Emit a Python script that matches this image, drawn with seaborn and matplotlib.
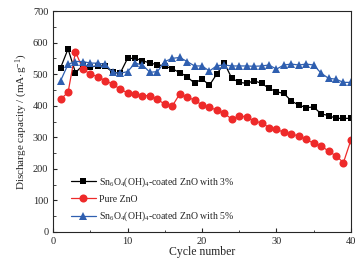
import numpy as np
import pandas as pd
import matplotlib
matplotlib.use('Agg')
import matplotlib.pyplot as plt
import seaborn as sns
from matplotlib.ticker import MultipleLocator

# Data
cycles = list(range(1, 41))
coated_3 = [520, 580, 505, 528, 522, 527, 525, 506, 503, 550,
            550, 543, 535, 530, 526, 517, 505, 492, 471, 485,
            465, 501, 535, 487, 474, 471, 479, 471, 455, 444,
            439, 415, 402, 394, 396, 374, 369, 360, 360, 360]
pure_zno = [421, 442, 571, 516, 500, 492, 479, 469, 452, 441,
            436, 432, 432, 420, 405, 399, 437, 427, 418, 402,
            395, 386, 376, 357, 367, 365, 351, 346, 331, 325,
            316, 309, 305, 293, 281, 273, 256, 241, 220, 291]
coated_5 = [479, 531, 540, 540, 535, 535, 531, 506, 503, 508,
            535, 529, 506, 508, 540, 550, 553, 540, 526, 526,
            510, 527, 529, 526, 526, 526, 525, 526, 529, 516,
            529, 532, 529, 532, 529, 503, 487, 484, 474, 474]

labels = [r'Sn$_6$O$_4$(OH)$_4$-coated ZnO with 3%',
          'Pure ZnO',
          r'Sn$_6$O$_4$(OH)$_4$-coated ZnO with 5%']
colors = ['#000000', '#ee2a2a', '#2f5fb0']
markers = ['s', 'o', '^']
sizes = [4.8, 5.8, 5.8]

sns.set_style('ticks')
plt.rcParams['font.family'] = ['Liberation Serif', 'DejaVu Serif']
plt.rcParams['mathtext.fontset'] = 'custom'
plt.rcParams['mathtext.rm'] = 'Liberation Serif'
plt.rcParams['mathtext.it'] = 'Liberation Serif:italic'

fig = plt.figure(figsize=(3.64, 2.63), dpi=100)
ax = fig.add_axes([0.146, 0.118, 0.818, 0.84])

for vals, lab, col, mk, ms in zip([coated_3, pure_zno, coated_5], labels, colors, markers, sizes):
    df = pd.DataFrame({'cycle': cycles, 'capacity': vals})
    sns.lineplot(data=df, x='cycle', y='capacity', ax=ax, color=col, marker=mk,
                 markersize=ms, markeredgewidth=0, linewidth=0.9, label=lab)

ax.set_xlim(0, 40)
ax.set_ylim(0, 700)
ax.xaxis.set_major_locator(MultipleLocator(10))
ax.xaxis.set_minor_locator(MultipleLocator(5))
ax.yaxis.set_major_locator(MultipleLocator(100))
ax.yaxis.set_minor_locator(MultipleLocator(50))
ax.tick_params(which='both', direction='in', top=False, right=False, labelsize=7.5)
ax.tick_params(which='major', length=3, width=0.8)
ax.tick_params(which='minor', length=1.8, width=0.6)
for s in ax.spines.values():
    s.set_linewidth(0.8)

ax.set_xlabel('Cycle number', fontsize=8.5, labelpad=0)
ax.set_ylabel(r'Discharge capacity / (mA$\cdot$g$^{-1}$)', fontsize=8, labelpad=2)

ax.legend(loc='lower left', bbox_to_anchor=(0.03, 0.0), frameon=False,
          fontsize=7, handlelength=2.6, labelspacing=0.6, handletextpad=0.3)

fig.savefig('out.png', dpi=100)
